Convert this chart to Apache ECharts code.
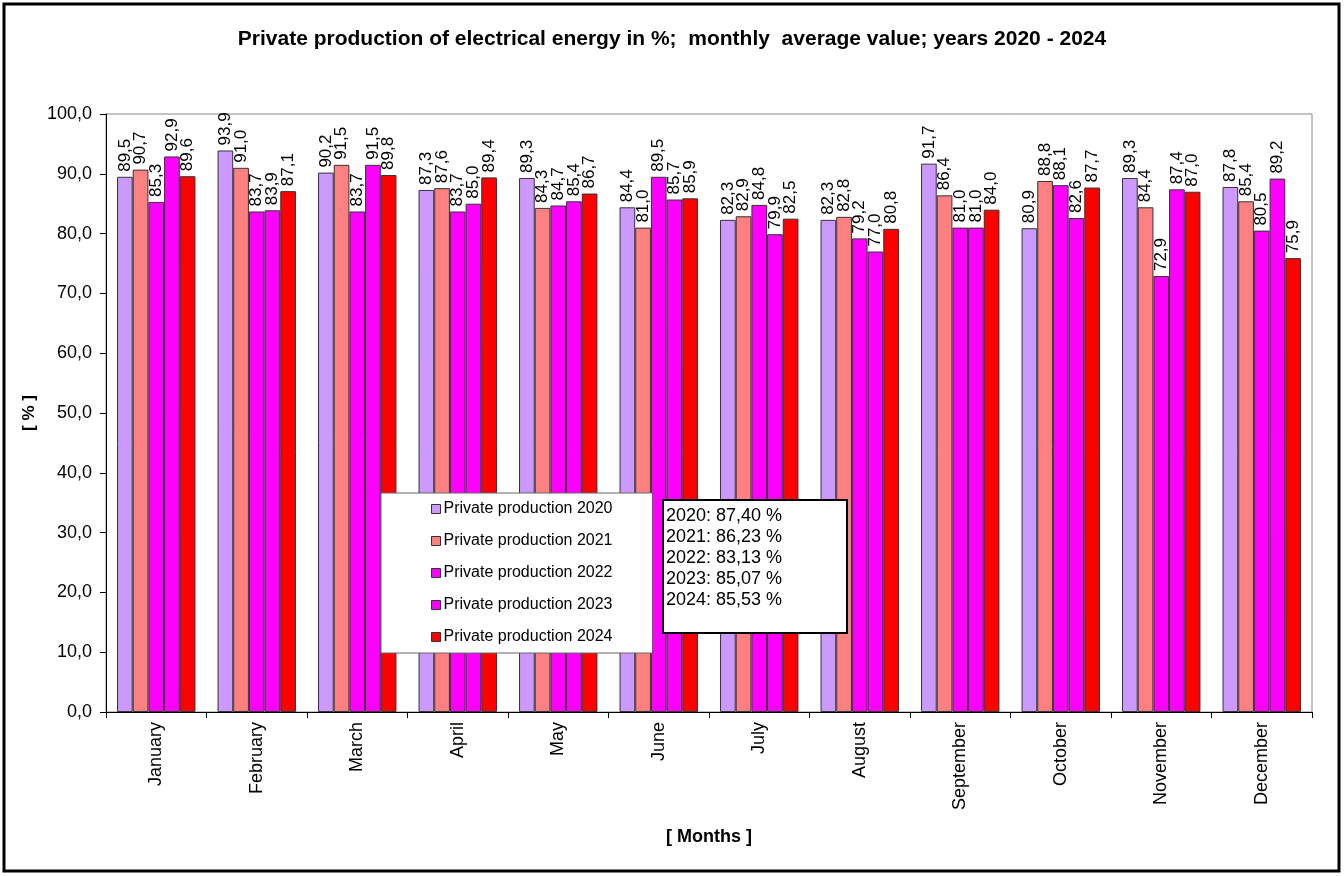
<!DOCTYPE html>
<html><head><meta charset="utf-8">
<script src="https://cdn.jsdelivr.net/npm/echarts@6/dist/echarts.min.js"></script>
<style>html,body{margin:0;padding:0;background:#fff}#c{width:1344px;height:876px}</style>
</head><body><div id="c"></div>
<script>
const months = ['January','February','March','April','May','June','July','August','September','October','November','December'];
const years = ['2020','2021','2022','2023','2024'];
const p2020 = [89.5,93.9,90.2,87.3,89.3,84.4,82.3,82.3,91.7,80.9,89.3,87.8];
const p2021 = [90.7,91.0,91.5,87.6,84.3,81.0,82.9,82.8,86.4,88.8,84.4,85.4];
const p2022 = [85.3,83.7,83.7,83.7,84.7,89.5,84.8,79.2,81.0,88.1,72.9,80.5];
const p2023 = [92.9,83.9,91.5,85.0,85.4,85.7,79.9,77.0,81.0,82.6,87.4,89.2];
const p2024 = [89.6,87.1,89.8,89.4,86.7,85.9,82.5,80.8,84.0,87.7,87.0,75.9];
const averages = ['87,40','86,23','83,13','85,07','85,53'];
const seriesData = [p2020,p2021,p2022,p2023,p2024];
const colors = ['#CC99FF','#FF8080','#FF00FF','#FF00FF','#FF0000'];
const FONT = 'Liberation Sans, Arial, sans-serif';
const fmt = v => v.toFixed(1).replace('.', ',');

const chart = echarts.init(document.getElementById('c'));
chart.setOption({
  animation:false,
  backgroundColor:'#fff',
  textStyle:{fontFamily:FONT},
  title:{
    text:'Private production of electrical energy in %;  monthly  average value; years 2020 - 2024',
    left:'center', top:24,
    textStyle:{fontFamily:FONT,fontWeight:'bold',fontSize:21,color:'#000'}
  },
  grid:{left:106,right:32,top:114,bottom:164,show:true,borderColor:'#888',borderWidth:1,backgroundColor:'#fff'},
  legend:{
    orient:'vertical', left:381, top:493, z:20,
    backgroundColor:'#fff', borderColor:'#666', borderWidth:1,
    padding:[8,40,8,50], itemGap:16, itemWidth:9, itemHeight:9,
    textStyle:{fontFamily:FONT,fontSize:16,color:'#000',padding:[0,0,0,-2]},
    data: years.map(y=>({name:'Private production '+y, icon:'rect', itemStyle:{borderColor:'#333',borderWidth:1}}))
  },
  xAxis:{
    type:'category', data:months,
    name:'[ Months ]', nameLocation:'middle', nameGap:116,
    nameTextStyle:{fontFamily:FONT,fontWeight:'bold',fontSize:18,color:'#000'},
    axisLine:{lineStyle:{color:'#000',width:1}},
    axisTick:{show:true,length:6,lineStyle:{color:'#000'}},
    axisLabel:{rotate:90,fontSize:18,color:'#000',fontFamily:FONT,margin:10}
  },
  yAxis:{
    type:'value', min:0, max:100, interval:10,
    name:'[ % ]', nameLocation:'middle', nameGap:68, nameRotate:90, nameMoveOverlap:false,
    nameTextStyle:{fontFamily:FONT,fontWeight:'bold',fontSize:17,color:'#000'},
    axisLine:{show:true,lineStyle:{color:'#000',width:1}},
    axisTick:{show:true,length:6,lineStyle:{color:'#000'}},
    splitLine:{show:false},
    axisLabel:{fontSize:18,color:'#000',fontFamily:FONT,margin:14,formatter:v=>fmt(v)}
  },
  series: seriesData.map((d,i)=>({
    name:'Private production '+years[i], type:'bar', data:d,
    barGap:'0%', barCategoryGap:'22%',
    itemStyle:{color:colors[i],borderColor:'#333',borderWidth:1},
    label:{show:true,position:'top',rotate:90,align:'left',verticalAlign:'middle',distance:5,
      fontSize:17,color:'#000',fontFamily:FONT,formatter:p=>fmt(p.value)}
  })),
  graphic:[
    {type:'rect',z:100,zlevel:1,shape:{x:4,y:4,width:1335,height:867},style:{fill:'none',stroke:'#000',lineWidth:3}},
    {type:'rect',z:100,zlevel:1,shape:{x:663,y:500,width:184,height:133},style:{fill:'#fff',stroke:'#000',lineWidth:2}},
    {type:'text',z:101,zlevel:1,x:666,y:506,style:{text:years.map((y,i)=>y+': '+averages[i]+' %').join('\n'),
      font:'18px '+FONT,fill:'#000',lineHeight:21}}
  ]
});
</script></body></html>
